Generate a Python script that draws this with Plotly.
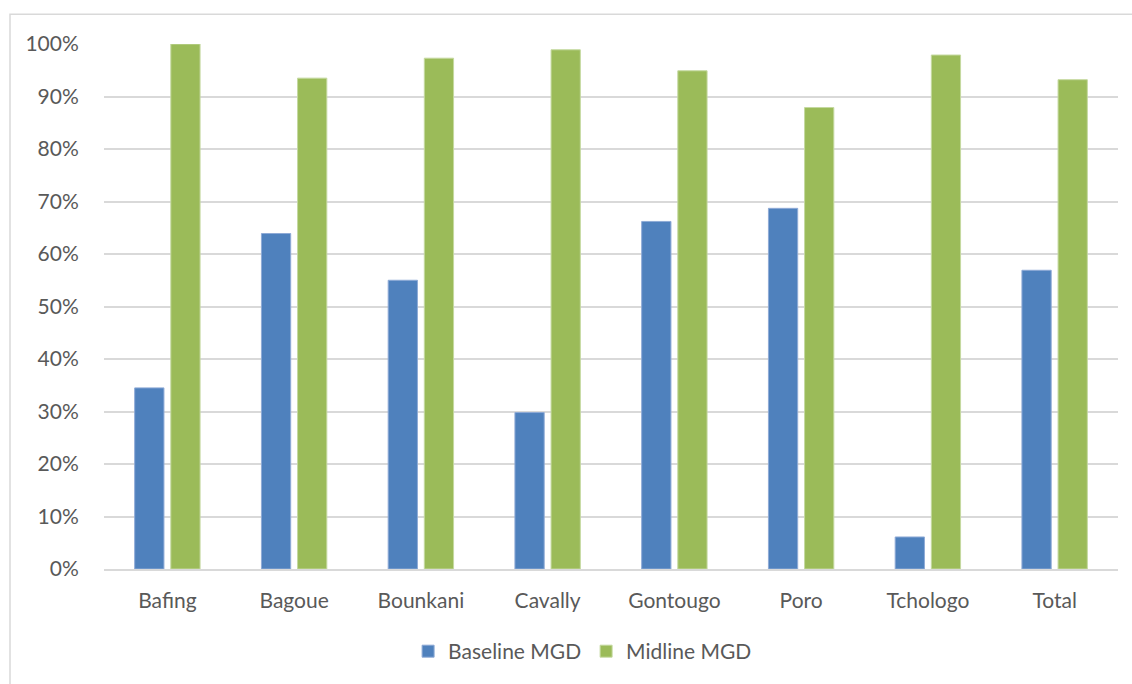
import plotly.graph_objects as go

# Regions and share of schools reached (fractions)
regions = ["Bafing", "Bagoue", "Bounkani", "Cavally", "Gontougo", "Poro", "Tchologo", "Total"]
baseline_mgd = [0.345, 0.639, 0.550, 0.298, 0.662, 0.687, 0.061, 0.569]
midline_mgd = [1.000, 0.935, 0.973, 0.989, 0.949, 0.879, 0.979, 0.932]
y_ticks = [0, 0.1, 0.2, 0.3, 0.4, 0.5, 0.6, 0.7, 0.8, 0.9, 1.0]
y_tick_labels = ["0%", "10%", "20%", "30%", "40%", "50%", "60%", "70%", "80%", "90%", "100%"]

FONT = "Lato, Calibri, Carlito, sans-serif"
TEXT = "#595959"
GRID = "#D9D9D9"

fig = go.Figure()
fig.add_trace(go.Bar(
    name="Baseline MGD", x=regions, y=baseline_mgd,
    marker=dict(color="#4F81BD", line=dict(color="#8EAAD6", width=1)),
))
fig.add_trace(go.Bar(
    name="Midline MGD", x=regions, y=midline_mgd,
    marker=dict(color="#9BBB59", line=dict(color="#C5D9A0", width=1)),
))

# plot area in pixels: x 104..1118, y 44..571
W, H = 1132, 684
L, R, T, B = 104, 14, 44, 112
pw, ph = W - L - R, H - T - B

def px_x(p):
    return (p - L) / pw

def px_y(p):
    return (H - B - p) / ph

fig.update_layout(
    width=W, height=H,
    margin=dict(l=L, r=R, t=T, b=B, pad=0),
    paper_bgcolor="white", plot_bgcolor="white",
    barmode="group", bargap=0.43, bargroupgap=0.19,
    font=dict(family=FONT, size=21, color=TEXT),
    showlegend=True,
    legend=dict(
        orientation="h", x=0.472, xanchor="center", y=px_y(655), yanchor="middle",
        font=dict(family=FONT, size=21, color=TEXT),
        itemwidth=30, traceorder="normal",
    ),
    xaxis=dict(
        showgrid=False, showline=True, linecolor=GRID, linewidth=1.5,
        ticks="outside", ticklen=12, tickcolor="rgba(0,0,0,0)",
        tickfont=dict(family=FONT, size=21, color=TEXT),
    ),
    yaxis=dict(
        range=[0, 1.0], tickvals=y_ticks, ticktext=y_tick_labels,
        showgrid=True, gridcolor=GRID, gridwidth=1.5, zeroline=False,
        showline=False, ticks="outside", ticklen=20, tickcolor="rgba(0,0,0,0)",
        tickfont=dict(family=FONT, size=21, color=TEXT),
    ),
    shapes=[
        dict(type="rect", xref="paper", yref="paper",
             x0=px_x(10), x1=px_x(1140), y0=px_y(700), y1=px_y(14),
             line=dict(color="#D9D9D9", width=1.5), fillcolor="rgba(0,0,0,0)",
             layer="below"),
    ],
)

fig.write_html("out.html")
